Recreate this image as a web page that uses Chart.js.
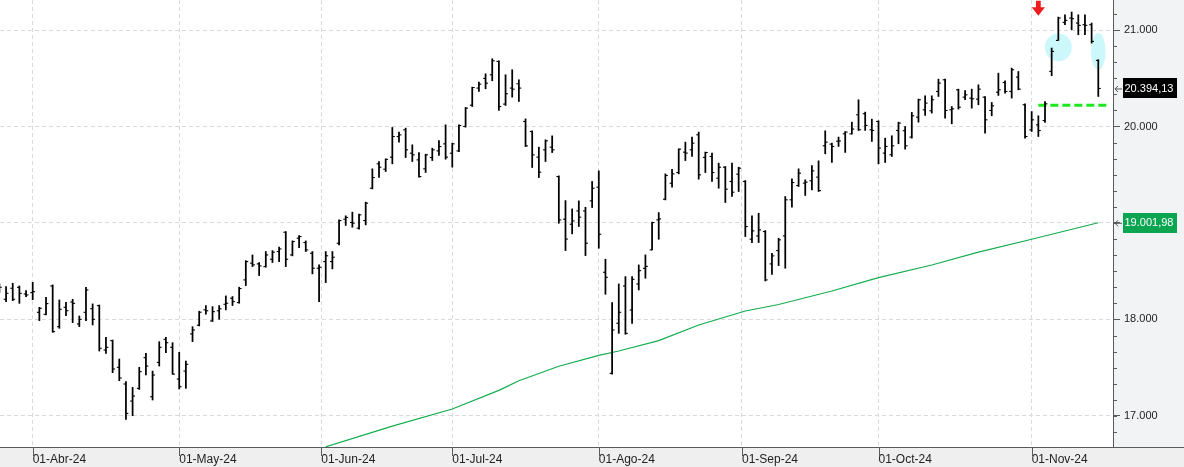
<!DOCTYPE html>
<html lang="es">
<head>
<meta charset="UTF-8">
<title>Nasdaq 100 - barras diarias</title>
<script src="https://cdn.jsdelivr.net/npm/chart.js@4.4.0/dist/chart.umd.js"></script>
<style>
  html, body { margin: 0; padding: 0; background: #fff; }
  canvas { display: block; }
</style>
</head>
<body>
<canvas id="chart" width="1184" height="467"></canvas>
<script>
// Daily bars, 22-Mar-24 .. 15-Nov-24 (index = trading day)
const opens = [
  18300, 18209, 18323, 18333, 18264,
  18278, 18074, 18053, 18347, 17925, 18126, 18181, 17953, 18074, 18112, 18143, 17683, 17780, 17504, 17331, 17154, 17286, 17604, 17199, 17555, 17794, 17711,
  17382, 17465, 17850, 17940, 18100, 17985, 18090, 18157, 18220, 18175, 18410, 18583, 18576, 18548, 18624, 18704, 18904, 18669, 18842, 18797, 18686, 18531,
  18600, 18600, 18790, 19039, 19005, 18946, 19025, 19360, 19613, 19557, 19682, 19896, 19965, 19723, 19654, 19561, 19678, 19747, 19820,
  19723, 19747, 20000, 20221, 20398, 20498, 20536, 20674, 20232, 20398, 20443, 20052, 19948, 19682, 19758, 19786, 19481, 19039, 18987, 19125, 19125, 19229,
  19371, 18489, 17441, 17960, 18347, 18098, 18368, 18530, 18721, 19032, 19246, 19412, 19523, 19734, 19758, 19914, 19680, 19689, 19464, 19578, 19430, 19506,
  19430, 18832, 18866, 18911, 18576, 18714, 18866, 19240, 19388, 19413, 19437, 19475, 19800, 19817, 19848, 19924, 19924, 20121, 20132, 19966,
  20052, 19724, 19707, 19959, 19956, 19890, 20097, 20173, 20163, 20363, 20484, 20173, 20380, 20304, 20294, 20283, 20304, 20166, 20356, 20456, 20363, 20512, 20225,
  19965, 20017, 20062, 20571, 20892, 21079, 21124, 21072, 21055, 21055, 20685
];
const highs = [
  18370, 18340, 18375, 18347, 18299,
  18385, 18126, 18230, 18358, 18202, 18178, 18209, 18036, 18333, 18161, 18150, 17815, 17787, 17590, 17355, 17296, 17504, 17649, 17465, 17770, 17815, 17759,
  17659, 17569, 17925, 18085, 18144, 18133, 18144, 18244, 18237, 18334, 18610, 18669, 18590, 18704, 18714, 18749, 18911, 18814, 18870, 18814, 18704, 18565,
  18704, 18704, 19032, 19074, 19112, 19091, 19216, 19561, 19637, 19664, 19990, 19941, 19983, 19810, 19730, 19713, 19775, 19855, 20017,
  19827, 20017, 20197, 20408, 20460, 20546, 20702, 20681, 20536, 20588, 20484, 20079, 19955, 19786, 19862, 19903, 19488, 19232, 19146, 19229, 19163, 19430,
  19540, 18624, 18174, 18368, 18444, 18444, 18565, 18669, 19008, 19108, 19509, 19557, 19768, 19838, 19889, 19942, 19735, 19724, 19620, 19585, 19620, 19578,
  19440, 19074, 19101, 18921, 18686, 18842, 19274, 19457, 19561, 19447, 19596, 19644, 19955, 19827, 19890, 19948, 20045, 20277, 20149, 20076,
  20059, 19879, 19904, 20045, 20000, 20146, 20284, 20318, 20318, 20491, 20491, 20207, 20387, 20373, 20387, 20432, 20311, 20249, 20553, 20474, 20605, 20570, 20235,
  20155, 20111, 20259, 20813, 21134, 21158, 21186, 21158, 21158, 21072, 20692
];
const lows = [
  18280, 18185, 18195, 18167, 18237,
  18205, 17988, 18046, 17867, 17908, 18040, 17967, 17925, 17988, 17943, 17673, 17649, 17448, 17365, 16964, 17002, 17275, 17424, 17165, 17517, 17656, 17431,
  17279, 17286, 17770, 17933, 18054, 17978, 18002, 18099, 18144, 18168, 18351, 18548, 18455, 18541, 18590, 18600, 18548, 18659, 18745, 18704, 18472, 18185,
  18382, 18524, 18773, 18974, 18956, 18935, 18980, 19353, 19471, 19533, 19613, 19837, 19678, 19637, 19474, 19523, 19647, 19699, 19661,
  19578, 19740, 19993, 20207, 20363, 20391, 20474, 20166, 20218, 20304, 20259, 19792, 19575, 19471, 19637, 19730, 18997, 18714, 18887, 18963, 18662, 19160,
  18738, 18261, 17434, 17856, 17846, 17960, 18306, 18427, 18721, 18831, 19239, 19371, 19509, 19647, 19689, 19454, 19523, 19430, 19360, 19212, 19274, 19326,
  18859, 18797, 18797, 18399, 18468, 18558, 18531, 19164, 19378, 19285, 19343, 19326, 19717, 19627, 19793, 19731, 19921, 19959, 19959, 19845,
  19613, 19627, 19689, 19821, 19765, 19879, 20045, 20115, 20139, 20311, 20086, 20028, 20180, 20277, 20190, 20225, 19931, 20111, 20322, 20346, 20294, 20380, 19879,
  19948, 19896, 20042, 20526, 20892, 21055, 21003, 20951, 20951, 20864, 20311
];
const closes = [
  18333, 18271, 18209, 18271, 18254,
  18288, 18116, 18164, 17874, 18105, 18091, 18167, 18001, 18306, 18001, 17701, 17711, 17486, 17393, 17026, 17206, 17459, 17517, 17424, 17711, 17759, 17434,
  17303, 17535, 17891, 18075, 18090, 18081, 18110, 18168, 18185, 18320, 18600, 18566, 18555, 18669, 18697, 18731, 18624, 18808, 18859, 18721, 18531, 18541,
  18660, 18645, 19025, 19057, 18998, 19084, 19205, 19471, 19578, 19660, 19896, 19913, 19758, 19706, 19481, 19706, 19758, 19792, 19682,
  19820, 20010, 20190, 20404, 20439, 20449, 20681, 20207, 20339, 20387, 20398, 19799, 19706, 19526, 19851, 19758, 19032, 18833, 19021, 19060, 18790, 19360,
  18883, 18437, 17891, 18074, 17856, 18416, 18506, 18550, 19004, 19042, 19492, 19509, 19765, 19724, 19827, 19499, 19730, 19523, 19578, 19350, 19319, 19568,
  18963, 18918, 18928, 18410, 18659, 18825, 19240, 19419, 19516, 19423, 19540, 19336, 19838, 19793, 19850, 19942, 19973, 19966, 20011, 19959,
  19776, 19793, 19800, 20035, 19800, 20111, 20277, 20242, 20277, 20450, 20166, 20183, 20200, 20328, 20287, 20387, 20069, 20214, 20380, 20363, 20588, 20387, 19896,
  20069, 19958, 20235, 20778, 21124, 21100, 21117, 21048, 21048, 20882, 20394.13
];

// 200-session moving average, read at some sessions
const maIdx  = [49, 59, 68, 75, 78, 84, 90, 93, 99, 105, 112, 117, 125, 132, 140, 147, 155, 165];
const maVals = [16680, 16895, 17072, 17265, 17365, 17515, 17628, 17673, 17780, 17942, 18088, 18155, 18295, 18433, 18564, 18697, 18831, 19001.98];

// axis ticks (month ticks are fractional when the 1st is not a session)
const priceTicks  = [17000, 18000, 19000, 20000, 21000];
const monthTicks  = [5, 27, 48.33, 68, 90, 111.5, 132, 155];
const monthLabels = ['01-Abr-24', '01-May-24', '01-Jun-24', '01-Jul-24', '01-Ago-24', '01-Sep-24', '01-Oct-24', '01-Nov-24'];

// annotations
const levelValue = 20221;
const levelSpan = [156, 166.5];
const gapMarks = [ { i: 159, v: 20820, rx: 13.5, ry: 13.8 }, { i: 165, v: 20778, rx: 7.4, ry: 18.4 } ];
const arrowAt = { i: 156, v: 21148 };

const xMin = 0.09, xMax = 167.21;
const yMin = 16678, yMax = 21311;

const thousands = v => String(Math.round(v)).replace(/\B(?=(\d{3})+(?!\d))/g, '.');
const priceText = v => {
    const [a, b] = v.toFixed(2).split('.');
    return thousands(+a) + ',' + b;
};

const idx = closes.map((_, i) => i);
const barData = idx.map(i => ({ x: i, y: [lows[i], highs[i]] }));
const openPts = idx.map(i => ({ x: i, y: opens[i] }));
const closePts = idx.map(i => ({ x: i, y: closes[i] }));
const maPts = maIdx.map((x, k) => ({ x: x, y: maVals[k] }));
const levelPts = levelSpan.map(x => ({ x: x, y: levelValue }));

// panels, marks and price tags
const decor = {
    id: 'decor',
    beforeDraw(chart) {
        const { ctx, chartArea: a, width, height } = chart;
        ctx.save();
        ctx.fillStyle = '#ffffff';
        ctx.fillRect(0, 0, width, height);
        ctx.fillStyle = '#f2f3f5';
        ctx.fillRect(a.right, 0, width - a.right, a.bottom);
        ctx.fillStyle = '#efefef';
        ctx.fillRect(0, a.bottom, width, height - a.bottom);
        ctx.restore();
    },
    beforeDatasetsDraw(chart) {
        const { ctx, scales: { x, y } } = chart;
        ctx.save();
        ctx.fillStyle = '#cdf8fb';
        gapMarks.forEach(m => {
            ctx.beginPath();
            ctx.ellipse(x.getPixelForValue(m.i), y.getPixelForValue(m.v), m.rx, m.ry, 0, 0, Math.PI * 2);
            ctx.fill();
        });
        ctx.restore();
    },
    afterDatasetsDraw(chart) {
        const { ctx, scales: { x, y } } = chart;
        const cx = x.getPixelForValue(arrowAt.i);
        const tip = y.getPixelForValue(arrowAt.v);
        ctx.save();
        ctx.fillStyle = '#ee1c1c';
        ctx.fillRect(cx - 2.4, tip - 15, 4.8, 8);
        ctx.beginPath();
        ctx.moveTo(cx - 6.6, tip - 8.5);
        ctx.lineTo(cx + 6.6, tip - 8.5);
        ctx.lineTo(cx, tip);
        ctx.closePath();
        ctx.fill();
        ctx.restore();
    },
    afterDraw(chart) {
        const { ctx, chartArea: a, width, scales: { x, y } } = chart;
        ctx.save();
        ctx.strokeStyle = '#5a5a5a';
        ctx.lineWidth = 1;
        ctx.beginPath();
        ctx.moveTo(0, a.bottom + 0.5);
        ctx.lineTo(width, a.bottom + 0.5);
        ctx.moveTo(a.right + 0.5, 0);
        ctx.lineTo(a.right + 0.5, a.bottom);
        // minor ticks on the price axis
        for (let v = priceTicks[0] - 1000; v <= yMax; v += 1000 / 6) {
            if (v < yMin) continue;
            const py = Math.round(y.getPixelForValue(v)) + 0.5;
            ctx.moveTo(a.right, py);
            ctx.lineTo(a.right + 4, py);
        }
        // month ticks
        monthTicks.forEach(v => {
            const px = Math.round(x.getPixelForValue(v)) + 0.5;
            ctx.moveTo(px, a.bottom);
            ctx.lineTo(px, a.bottom + 9);
        });
        ctx.stroke();

        const tag = (value, bg) => {
            const py = y.getPixelForValue(value);
            const ax = a.right + 2;
            ctx.strokeStyle = '#555';
            ctx.beginPath();
            ctx.moveTo(ax + 7, py + 0.5);
            ctx.lineTo(ax, py + 0.5);
            ctx.moveTo(ax + 3, py - 2.5);
            ctx.lineTo(ax, py + 0.5);
            ctx.lineTo(ax + 3, py + 3.5);
            ctx.stroke();
            ctx.fillStyle = bg;
            ctx.fillRect(a.right + 10, Math.round(py) - 10, 54, 20);
            ctx.fillStyle = '#ffffff';
            ctx.font = '11px "Liberation Sans", Arial, sans-serif';
            ctx.textBaseline = 'middle';
            ctx.textAlign = 'left';
            ctx.fillText(priceText(value), a.right + 11.5, py + 0.5);
        };
        tag(closes[closes.length - 1], '#000000');
        tag(maVals[maVals.length - 1], '#0aa550');
        ctx.restore();
    }
};

Chart.defaults.font.family = '"Liberation Sans", Arial, sans-serif';

new Chart(document.getElementById('chart'), {
    type: 'bar',
    data: {
        datasets: [
            {
                type: 'line',
                label: 'Media 200',
                data: maPts,
                borderColor: '#12ad4e',
                borderWidth: 1.2,
                pointRadius: 0,
                tension: 0,
                order: 5
            },
            {
                type: 'line',
                label: 'Soporte',
                data: levelPts,
                borderColor: '#1ee81e',
                borderWidth: 3,
                borderDash: [8, 4],
                pointRadius: 0,
                order: 4
            },
            {
                type: 'bar',
                label: 'Rango',
                data: barData,
                backgroundColor: '#000000',
                barThickness: 1.1,
                order: 3
            },
            {
                type: 'line',
                label: 'Apertura',
                data: openPts,
                showLine: false,
                pointStyle: 'dash',
                pointRotation: 180,
                pointRadius: 2.4,
                pointBorderWidth: 1.1,
                pointBorderColor: '#000000',
                pointBackgroundColor: '#000000',
                order: 1
            },
            {
                type: 'line',
                label: 'Cierre',
                data: closePts,
                showLine: false,
                pointStyle: 'dash',
                pointRotation: 0,
                pointRadius: 2.4,
                pointBorderWidth: 1.1,
                pointBorderColor: '#000000',
                pointBackgroundColor: '#000000',
                order: 1
            }
        ]
    },
    options: {
        responsive: false,
        devicePixelRatio: 1,
        animation: false,
        events: [],
        layout: { padding: 0, autoPadding: false },
        plugins: {
            legend: { display: false },
            tooltip: { enabled: false }
        },
        scales: {
            x: {
                type: 'linear',
                min: xMin,
                max: xMax,
                offset: false,
                grid: { offset: false, color: '#d9d9d9', drawTicks: false },
                border: { display: false, dash: [4, 3] },
                afterBuildTicks: s => { s.ticks = monthTicks.map(v => ({ value: v })); },
                ticks: {
                    autoSkip: false,
                    maxRotation: 0,
                    align: 'start',
                    padding: 5,
                    color: '#222',
                    font: { size: 12 },
                    callback: (v, i) => monthLabels[i]
                },
                afterFit: s => { s.height = 20; s.paddingLeft = 0; s.paddingRight = 0; }
            },
            y: {
                type: 'linear',
                position: 'right',
                min: yMin,
                max: yMax,
                grid: { color: '#d9d9d9', tickLength: 7, tickColor: '#5a5a5a', tickBorderDash: [] },
                border: { display: false, dash: [4, 3] },
                afterBuildTicks: s => { s.ticks = priceTicks.map(v => ({ value: v })); },
                ticks: {
                    padding: 4,
                    color: '#222',
                    font: { size: 11 },
                    callback: v => thousands(v)
                },
                afterFit: s => { s.width = 71; s.paddingTop = 0; s.paddingBottom = 0; }
            }
        }
    },
    plugins: [decor]
});
</script>
</body>
</html>
